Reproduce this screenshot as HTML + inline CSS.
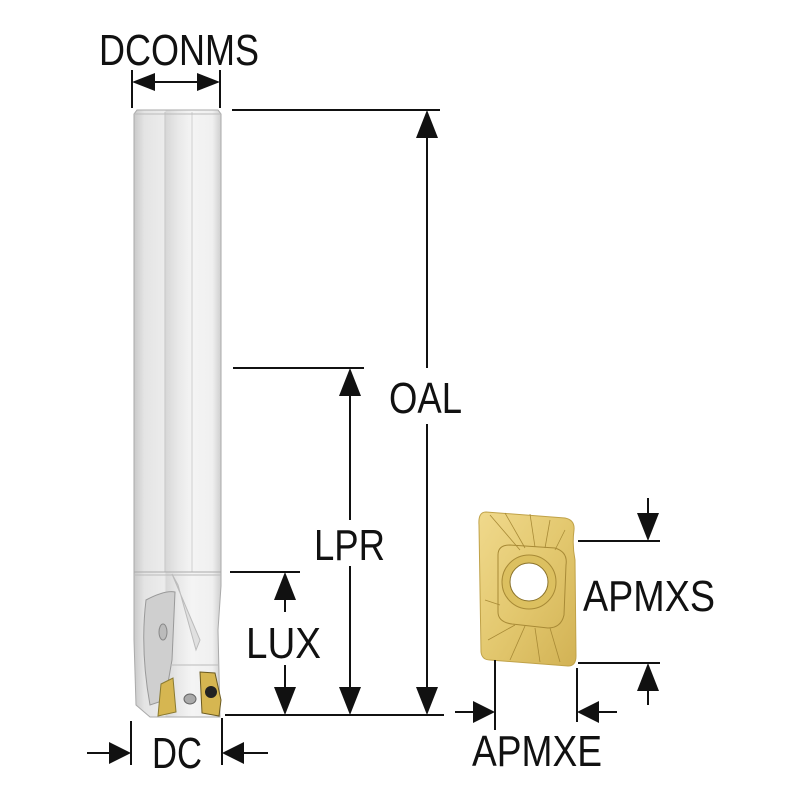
<!DOCTYPE html>
<html><head><meta charset="utf-8"><style>html,body{margin:0;padding:0;background:#fff}svg{display:block}</style></head>
<body>
<svg width="800" height="800" viewBox="0 0 800 800" xmlns="http://www.w3.org/2000/svg" font-family="Liberation Sans, sans-serif">
<defs>
<linearGradient id="sh" x1="0" x2="1">
<stop offset="0" stop-color="#c9c9c9"/><stop offset="0.12" stop-color="#e4e4e4"/><stop offset="0.35" stop-color="#ececec"/><stop offset="0.37" stop-color="#d8d8d8"/><stop offset="0.5" stop-color="#e8e8e8"/><stop offset="0.66" stop-color="#f4f4f4"/><stop offset="0.9" stop-color="#f0f0f0"/><stop offset="1" stop-color="#cfcfcf"/>
</linearGradient>
<linearGradient id="gd" x1="0" y1="0" x2="1" y2="1">
<stop offset="0" stop-color="#f0d98c"/><stop offset="0.5" stop-color="#e3c86f"/><stop offset="1" stop-color="#d2b254"/>
</linearGradient>
</defs>
<path d="M134 114 L137 110 L218 110 L221 114 L221 572 L134 572 Z" fill="url(#sh)" stroke="#aaa" stroke-width="1"/>
<line x1="165" y1="112" x2="165" y2="572" stroke="#c4c4c4"/>
<line x1="192" y1="112" x2="192" y2="572" stroke="#d0d0d0"/>
<line x1="134" y1="114" x2="221" y2="114" stroke="#bbb"/>
<path d="M134 572 L221 572 L221 586 L218 630 L220 717 L150 717 L136 705 L134 640 Z" fill="url(#sh)" stroke="#aaa"/>
<line x1="134" y1="575" x2="221" y2="575" stroke="#bbb"/>
<path d="M146 600 Q165 590 175 592 L172 660 L165 700 L150 705 Q140 650 146 600 Z" fill="#cfcfcf" stroke="#999"/>
<ellipse cx="163" cy="632" rx="4" ry="8" fill="#bbb" stroke="#888"/>
<path d="M172 574 L200 640 L196 650 L178 585 Z" fill="#e0e0e0" stroke="#bbb"/>
<line x1="170" y1="665" x2="218" y2="665" stroke="#bbb"/>
<path d="M161 684 L173 678 L176 712 L158 716 Z" fill="#d6b651" stroke="#8a7a30"/>
<path d="M200 672 L215 673 L221 700 L219 716 L202 713 Z" fill="#d6b651" stroke="#6b5a20"/>
<circle cx="211" cy="692" r="6" fill="#222"/>
<ellipse cx="190" cy="699" rx="6" ry="5" fill="#aaa" stroke="#666"/>
<path d="M486 512 Q478 512 479 525 L481 652 Q482 660 490 660 L568 666 Q576 666 576 656 L575 560 Q572 545 574 530 Q575 520 565 518 Z" fill="url(#gd)" stroke="#c0a248"/>
<path d="M498 555 Q498 545 510 545 L555 548 Q568 552 566 565 L564 615 Q561 628 548 628 L512 624 Q498 622 498 612 Z" fill="none" stroke="#a88a36" stroke-width="1"/>
<g stroke="#a88a36" stroke-width="0.8" fill="none">
<line x1="490" y1="515" x2="520" y2="550"/><line x1="505" y1="513" x2="525" y2="548"/><line x1="530" y1="514" x2="535" y2="547"/><line x1="550" y1="520" x2="545" y2="548"/><line x1="565" y1="530" x2="555" y2="550"/>
<line x1="488" y1="640" x2="515" y2="625"/><line x1="510" y1="660" x2="525" y2="626"/><line x1="540" y1="662" x2="535" y2="628"/><line x1="560" y1="662" x2="550" y2="628"/><line x1="485" y1="600" x2="500" y2="605"/>
</g>
<circle cx="529" cy="582" r="27" fill="#dcc060" stroke="#a88a36"/>
<circle cx="529" cy="582" r="19" fill="#fff" stroke="#8a722a"/>
<g stroke="#111" stroke-width="2" fill="none">
<line x1="132" y1="70" x2="132" y2="108"/><line x1="220" y1="70" x2="220" y2="108"/>
<line x1="150" y1="82" x2="202" y2="82"/>
<line x1="232" y1="110" x2="440" y2="110"/>
<line x1="427" y1="135" x2="427" y2="368"/><line x1="427" y1="424" x2="427" y2="690"/>
<line x1="233" y1="368" x2="364" y2="368"/>
<line x1="350" y1="395" x2="350" y2="520"/><line x1="350" y1="566" x2="350" y2="690"/>
<line x1="230" y1="572" x2="300" y2="572"/>
<line x1="285" y1="598" x2="285" y2="612"/><line x1="285" y1="665" x2="285" y2="690"/>
<line x1="225" y1="715" x2="444" y2="715"/>
<line x1="131" y1="721" x2="131" y2="765"/><line x1="222" y1="718" x2="222" y2="765"/>
<line x1="87" y1="753" x2="112" y2="753"/><line x1="243" y1="753" x2="268" y2="753"/>
<line x1="578" y1="541" x2="660" y2="541"/><line x1="648" y1="498" x2="648" y2="516"/>
<line x1="578" y1="663" x2="660" y2="663"/><line x1="648" y1="688" x2="648" y2="705"/>
<line x1="495" y1="660" x2="495" y2="730"/><line x1="577" y1="668" x2="577" y2="722"/>
<line x1="455" y1="712" x2="475" y2="712"/><line x1="597" y1="712" x2="617" y2="712"/>
</g>
<g fill="#111">
<polygon points="132,82 155,73 155,91"/><polygon points="220,82 197,73 197,91"/>
<polygon points="427,110 416,138 438,138"/><polygon points="427,715 416,687 438,687"/>
<polygon points="350,368 339,396 361,396"/><polygon points="350,715 339,687 361,687"/>
<polygon points="285,572 274,600 296,600"/><polygon points="285,715 274,687 296,687"/>
<polygon points="131,753 109,742 109,764"/><polygon points="222,753 244,742 244,764"/>
<polygon points="648,541 637,513 659,513"/><polygon points="648,663 637,691 659,691"/>
<polygon points="495,712 473,701 473,723"/><polygon points="577,712 599,701 599,723"/>
</g>
<g fill="#111" font-size="44">
<text x="99" y="65" textLength="160" lengthAdjust="spacingAndGlyphs">DCONMS</text>
<text x="389" y="413" textLength="73" lengthAdjust="spacingAndGlyphs">OAL</text>
<text x="314" y="560" textLength="71" lengthAdjust="spacingAndGlyphs">LPR</text>
<text x="246" y="658" textLength="75" lengthAdjust="spacingAndGlyphs">LUX</text>
<text x="152" y="768" textLength="50" lengthAdjust="spacingAndGlyphs">DC</text>
<text x="583" y="611" textLength="132" lengthAdjust="spacingAndGlyphs">APMXS</text>
<text x="472" y="766" textLength="130" lengthAdjust="spacingAndGlyphs">APMXE</text>
</g>
</svg>
</body></html>
